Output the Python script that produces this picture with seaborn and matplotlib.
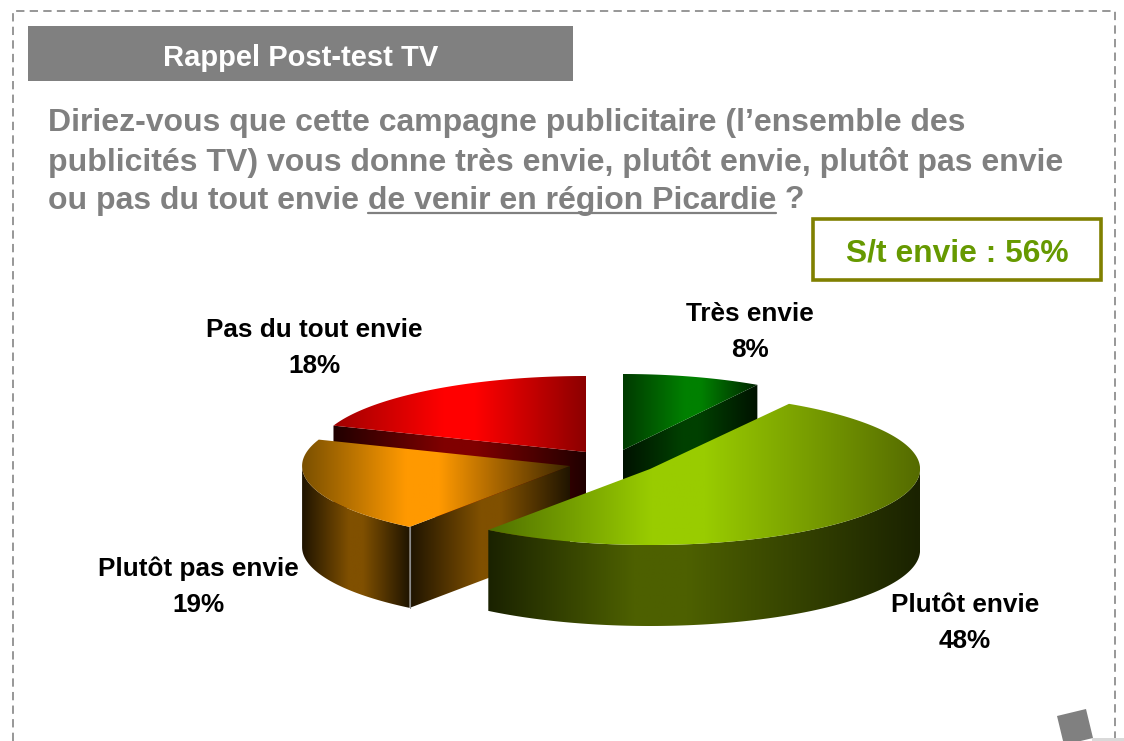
import numpy as np
import matplotlib
matplotlib.use('Agg')
import matplotlib.pyplot as plt
import seaborn as sns
from matplotlib.patches import Polygon, Rectangle

categories = ['Très envie', 'Plutôt envie', 'Plutôt pas envie', 'Pas du tout envie']
values = [8, 48, 19, 18]
banner_text = 'Rappel Post-test TV'
question_lines = ['Diriez-vous que cette campagne publicitaire (l’ensemble des',
                  'publicités TV) vous donne très envie, plutôt envie, plutôt pas envie']
question_last = ['ou pas du tout envie ', 'de venir en région Picardie', ' ?']
summary_text = 'S/t envie : 56%'

# (left, bright, right) for the top of each slice, (dark, bright) for its walls
top_colors = [('#003a00', '#008000', '#002400'),
              ('#4f7000', '#99cc00', '#556b00'),
              ('#7a5000', '#ff9900', '#3a2500'),
              ('#a00000', '#ff0000', '#8c0000')]
wall_colors = [('#001200', '#004000'),
               ('#1a2200', '#4d6000'),
               ('#1f1400', '#805000'),
               ('#200000', '#800000')]
top_peak = [0.52, 0.44, 0.45, 0.5]
wall_peak = [0.5, 0.4, 0.5, 0.5]

# pie layout in pixels
center = (605, 459)
explode = [(18, -9), (45, 10), (-35, 7), (-19, -7)]
rx_scale = [0.96, 0.993, 0.985, 0.99]
rx, ry, depth = 272, 76, 81
label_pos = [(750, 332), (965, 623), (198, 587), (314, 348)]
draw_order = [3, 0, 2, 1]

GREY = '#808080'

sns.set_theme(style='white')
plt.rcParams['font.family'] = ['Liberation Sans', 'DejaVu Sans']
plt.rcParams['font.weight'] = 'bold'

fig = plt.figure(figsize=(11.24, 7.41), dpi=100)
ax = fig.add_axes([0, 0, 1, 1])
ax.set_xlim(0, 1124)
ax.set_ylim(741, 0)
ax.axis('off')


def gradient(verts, left, mid, right, peak, z):
    '''Fills a polygon with a horizontal left-mid-right gradient, flat around the peak.'''
    verts = np.array(verts)
    x0, x1 = verts[:, 0].min(), verts[:, 0].max()
    y0, y1 = verts[:, 1].min(), verts[:, 1].max()
    n = 400
    flat = int(n * 0.06)
    n_left = int(n * peak) - flat
    n_right = n - n_left - 2 * flat
    cols = sns.blend_palette([left, mid], n_left) + [sns.set_hls_values(mid)] * (2 * flat) \
        + sns.blend_palette([mid, right], n_right)
    im = ax.imshow(np.array(cols)[None, :, :], extent=[x0, x1, y1, y0], aspect='auto', zorder=z)
    clip = Polygon(verts, closed=True, fc='none', ec='none', transform=ax.transData, zorder=z)
    ax.add_patch(clip)
    im.set_clip_path(clip)


def draw_slice(i, a0, a1, z):
    cx = center[0] + explode[i][0]
    cy = center[1] + explode[i][1]
    r = rx * rx_scale[i]

    def pt(a):
        return np.column_stack([cx + r * np.sin(a), cy - ry * np.cos(a)])

    down = np.array([0, depth])
    dark, bright = wall_colors[i]

    # cut faces that look towards the viewer
    for a, sign in ((a0, -1), (a1, 1)):
        if sign * np.sin(a) > 1e-6:
            p = pt(np.array([a]))[0]
            c = np.array([cx, cy])
            gradient([c, p, p + down, c + down], dark, bright, dark, 0.5, z)

    # round wall, only the front half shows
    lo, hi = max(a0, np.pi / 2), min(a1, 3 * np.pi / 2)
    if hi > lo:
        arc = pt(np.linspace(lo, hi, 120))
        gradient(np.vstack([arc, (arc + down)[::-1]]), dark, bright, dark, wall_peak[i], z + 0.1)
        if i == 2:
            p = pt(np.array([lo]))[0]
            ax.plot([p[0], p[0]], [p[1], p[1] + depth], color='#8a8a8a', lw=0.8, zorder=z + 0.2)

    top = np.vstack([[[cx, cy]], pt(np.linspace(a0, a1, 200))])
    left, mid, right = top_colors[i]
    gradient(top, left, mid, right, top_peak[i], z + 0.3)


edges = np.cumsum([0] + values) / sum(values) * 2 * np.pi
for k, i in enumerate(draw_order):
    draw_slice(i, edges[i], edges[i + 1], 2 + k)

ax.set_xlim(0, 1124)
ax.set_ylim(741, 0)

for cat, val, (x, y) in zip(categories, values, label_pos):
    ax.text(x, y, f'{cat}\n{val}%', ha='center', va='center', fontsize=18.8, color='black',
            linespacing=1.62, zorder=20)

# page furniture
ax.plot([13, 13, 1115, 1115], [741, 11, 11, 738], color=GREY, lw=1.15, ls=(0, (5.2, 3.3)), zorder=1)
ax.add_patch(Rectangle((28, 26), 545, 55, fc=GREY, ec='none', zorder=1))
ax.text(301, 57.5, banner_text, ha='center', va='center', fontsize=21, color='white', zorder=3)

for line, y in zip(question_lines, (122.5, 162.5)):
    ax.text(48, y, line, ha='left', va='center', fontsize=23, color=GREY, zorder=3)

# last question line is built piece by piece for the underline
renderer = fig.canvas.get_renderer()
x = 48
for k, piece in enumerate(question_last):
    t = ax.text(x, 200.5, piece.replace(' ', '\u00a0'), ha='left', va='center', fontsize=23, color=GREY, zorder=3)
    box = t.get_window_extent(renderer)
    if k == 1:
        ax.plot([box.x0, box.x1], [212.5, 212.5], color=GREY, lw=1.6, zorder=3)
    x = box.x1

ax.add_patch(Rectangle((813, 219), 288, 61, fc='white', ec='#808000', lw=2.6, zorder=3))
ax.text(957, 253.5, summary_text, ha='center', va='center', fontsize=22.9, color='#669900', zorder=4)

# corner logo
ax.add_patch(Polygon([(1057, 716), (1086, 709), (1093, 738), (1064, 745)], fc=GREY, ec='none', zorder=3))
ax.add_patch(Rectangle((1092, 738), 32, 3, fc='#d9d9d9', ec='none', zorder=3))

fig.savefig('out.png', dpi=100, facecolor='white')
